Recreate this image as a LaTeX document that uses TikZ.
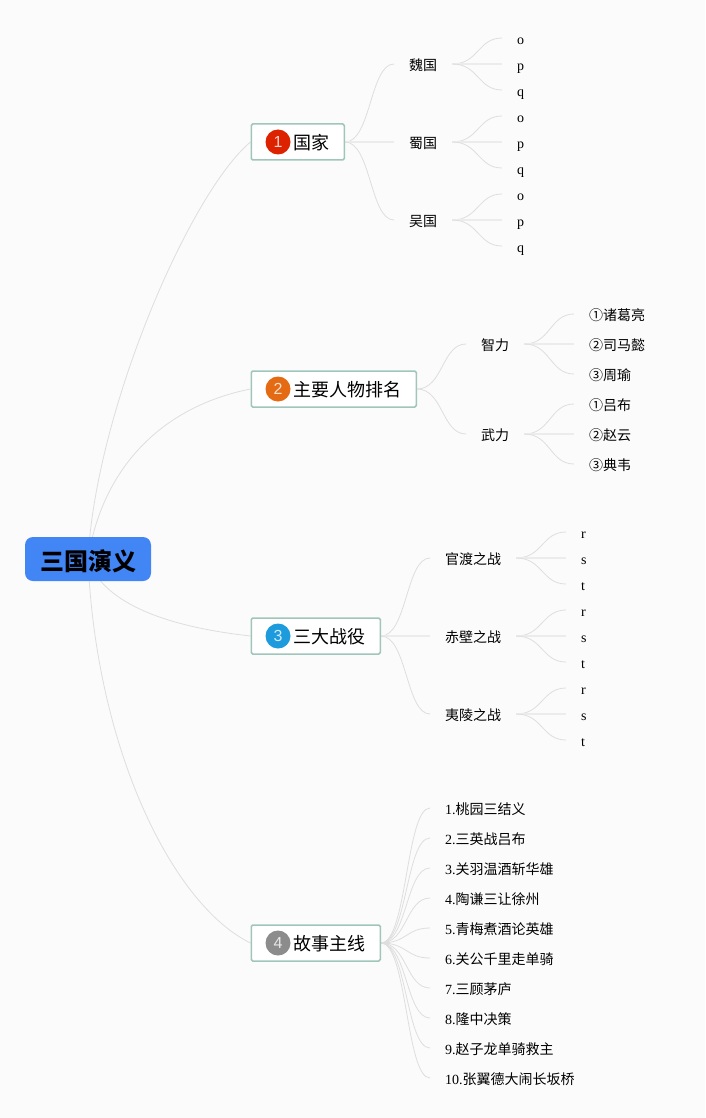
\documentclass[tikz,border=0pt]{standalone}
\usepackage{fontspec}
\setmainfont{Liberation Serif}
\newfontfamily\cjk{Noto Sans CJK SC}
\newfontfamily\digitfont{Liberation Sans}
\usetikzlibrary{backgrounds}
\definecolor{pagebg}{HTML}{FBFBFB}
\definecolor{rootblue}{HTML}{4285F4}
\definecolor{boxline}{HTML}{A0C6BC}
\definecolor{linkgrey}{HTML}{DEDEDE}
\definecolor{flatgrey}{HTML}{ECECEC}
\definecolor{iconred}{HTML}{DD2200}
\definecolor{iconorange}{HTML}{E46A14}
\definecolor{iconblue}{HTML}{1D9BDD}
\definecolor{icongrey}{HTML}{8C8C8C}
\tikzset{
  x=1pt,y=-1pt,
  rootbox/.style={fill=rootblue,rounded corners=8pt,minimum width=126pt,minimum height=44pt,inner sep=0pt,text height=22pt,text depth=0pt,font=\cjk\bfseries\fontsize{24}{24}\selectfont,text=black},
  topicbox/.style={draw=boxline,line width=1.5pt,fill=white,rounded corners=1.5pt,anchor=west,minimum height=36pt,inner xsep=15pt,inner ysep=0pt,text height=15.7pt,text depth=0pt,font=\cjk\fontsize{18}{18}\selectfont,text=black},
  iconball/.style={circle,minimum size=25pt,inner sep=0pt,text=white,text opacity=0.8,font=\digitfont\fontsize{16}{16}\selectfont},
  leaf/.style={anchor=west,inner xsep=15pt,inner ysep=0pt,text height=13pt,text depth=0pt,font=\fontsize{14}{14}\selectfont,text=black},
  link/.style={draw=linkgrey,line width=0.8pt},
  flatlink/.style={draw=flatgrey,line width=1.2pt},
}
\newcommand{\sk}{\hspace*{27pt}}
\begin{document}
\begin{tikzpicture}
\useasboundingbox (0,0) rectangle (705,1118);
% root and topics
\node[rootbox] (root) at (88,559) {三国演义};
\node[topicbox] (t1) at (250.5,142) {\sk 国家};
\node[topicbox] (t2) at (250.5,389) {\sk 主要人物排名};
\node[topicbox] (t3) at (250.5,636) {\sk 三大战役};
\node[topicbox] (t4) at (250.5,943) {\sk 故事主线};
\node[iconball,fill=iconred] (i1) at (278,142) {1};
\node[iconball,fill=iconorange] (i2) at (278,389) {2};
\node[iconball,fill=iconblue] (i3) at (278,636) {3};
\node[iconball,fill=icongrey] (i4) at (278,943) {4};
% branch 1
\node[leaf] (a1) at (394,64) {\cjk 魏国};
\node[leaf] (a2) at (394,142) {\cjk 蜀国};
\node[leaf] (a3) at (394,220) {\cjk 吴国};
\foreach \n/\y in {1/64,2/142,3/220}{
  \node[leaf] (a\n o) at (502,\y-26) {o};
  \node[leaf] (a\n p) at (502,\y) {p};
  \node[leaf] (a\n q) at (502,\y+26) {q};
}
% branch 2
\node[leaf] (b1) at (466,344) {\cjk 智力};
\node[leaf] (b2) at (466,434) {\cjk 武力};
\node[leaf] (b1x) at (574,314) {\cjk ①诸葛亮};
\node[leaf] (b1y) at (574,344) {\cjk ②司马懿};
\node[leaf] (b1z) at (574,374) {\cjk ③周瑜};
\node[leaf] (b2x) at (574,404) {\cjk ①吕布};
\node[leaf] (b2y) at (574,434) {\cjk ②赵云};
\node[leaf] (b2z) at (574,464) {\cjk ③典韦};
% branch 3
\node[leaf] (c1) at (430,558) {\cjk 官渡之战};
\node[leaf] (c2) at (430,636) {\cjk 赤壁之战};
\node[leaf] (c3) at (430,714) {\cjk 夷陵之战};
\foreach \n/\y in {1/558,2/636,3/714}{
  \node[leaf] (c\n r) at (566,\y-26) {r};
  \node[leaf] (c\n s) at (566,\y) {s};
  \node[leaf] (c\n t) at (566,\y+26) {t};
}
% branch 4
\node[leaf] (d1) at (430,808) {1.{\cjk 桃园三结义}};
\node[leaf] (d2) at (430,838) {2.{\cjk 三英战吕布}};
\node[leaf] (d3) at (430,868) {3.{\cjk 关羽温酒斩华雄}};
\node[leaf] (d4) at (430,898) {4.{\cjk 陶谦三让徐州}};
\node[leaf] (d5) at (430,928) {5.{\cjk 青梅煮酒论英雄}};
\node[leaf] (d6) at (430,958) {6.{\cjk 关公千里走单骑}};
\node[leaf] (d7) at (430,988) {7.{\cjk 三顾茅庐}};
\node[leaf] (d8) at (430,1018) {8.{\cjk 隆中决策}};
\node[leaf] (d9) at (430,1048) {9.{\cjk 赵子龙单骑救主}};
\node[leaf] (d10) at (430,1078) {10.{\cjk 张翼德大闹长坂桥}};
\begin{scope}[on background layer]
\fill[pagebg] (0,0) rectangle (705,1118);
\draw[link] (root.center) .. controls +(8,-150) and +(-60,50) .. (t1.west);
\draw[link] (root.center) .. controls +(14,-90) and +(-90,18) .. (t2.west);
\draw[link] (root.center) .. controls +(14,42) and +(-90,-10) .. (t3.west);
\draw[link] (root.center) .. controls +(8,190) and +(-78,-38) .. (t4.west);
\foreach \n/\s in {1/link,2/flatlink,3/link}{
  \draw[\s] (t1.east) .. controls +(26,0) and +(-24,0) .. (a\n.west);
  \draw[\s] (t3.east) .. controls +(26,0) and +(-24,0) .. (c\n.west);
}
\foreach \n in {1,2,3}{
  \foreach \m/\s in {o/link,p/flatlink,q/link}{
    \draw[\s] (a\n.east) .. controls +(26,0) and +(-24,0) .. (a\n\m.west);
  }
  \foreach \m/\s in {r/link,s/flatlink,t/link}{
    \draw[\s] (c\n.east) .. controls +(26,0) and +(-24,0) .. (c\n\m.west);
  }
}
\foreach \n in {1,2}{
  \draw[link] (t2.east) .. controls +(26,0) and +(-24,0) .. (b\n.west);
  \foreach \m/\s in {x/link,y/flatlink,z/link}{
    \draw[\s] (b\n.east) .. controls +(26,0) and +(-24,0) .. (b\n\m.west);
  }
}
\foreach \n in {1,...,10}{
  \draw[link] (t4.east) .. controls +(26,0) and +(-24,0) .. (d\n.west);
}
\end{scope}
\end{tikzpicture}
\end{document}
